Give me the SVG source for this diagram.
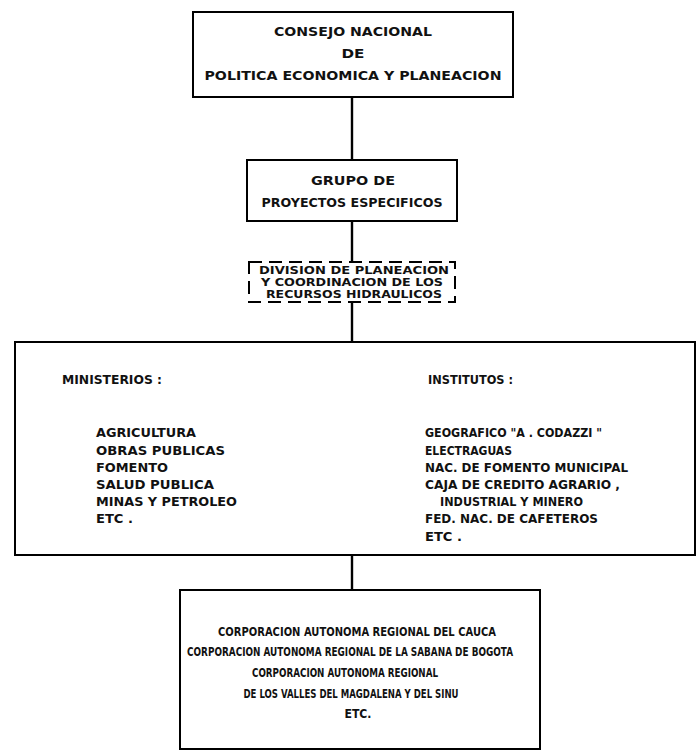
<svg xmlns="http://www.w3.org/2000/svg" width="698" height="751" viewBox="0 0 698 751">
  <style>
    .box { fill: #ffffff; stroke: #000000; stroke-width: 2; }
    .dash { fill: none; stroke: #000000; stroke-width: 2; stroke-dasharray: 13 7; }
    .link { stroke: #000000; stroke-width: 2.4; fill: none; }
    text { font-family: "DejaVu Sans", "Liberation Sans", sans-serif; font-size: 12px; font-weight: bold; fill: #111111; }
    .c { text-anchor: middle; }
    .sm { font-size: 11px; }
    .xs { font-size: 11.5px; }
  </style>
  <rect width="698" height="751" fill="#ffffff"/>

  <g id="connectors">
    <line class="link" x1="352" y1="97" x2="352" y2="160"/>
    <line class="link" x1="352" y1="221" x2="352" y2="262"/>
    <line class="link" x1="352" y1="302" x2="352" y2="342"/>
    <line class="link" x1="352" y1="555" x2="352" y2="590"/>
  </g>

  <g id="consejo">
    <rect class="box" x="193" y="12" width="320" height="85"/>
    <text class="c" x="353" y="36" textLength="158" lengthAdjust="spacingAndGlyphs">CONSEJO NACIONAL</text>
    <text class="c" x="353" y="58" textLength="23" lengthAdjust="spacingAndGlyphs">DE</text>
    <text class="c" x="353" y="80" textLength="297" lengthAdjust="spacingAndGlyphs">POLITICA ECONOMICA Y PLANEACION</text>
  </g>

  <g id="grupo">
    <rect class="box" x="247" y="160" width="210" height="61"/>
    <text class="c" x="353" y="185" textLength="84" lengthAdjust="spacingAndGlyphs">GRUPO  DE</text>
    <text class="c" x="352" y="207" textLength="181" lengthAdjust="spacingAndGlyphs">PROYECTOS ESPECIFICOS</text>
  </g>

  <g id="division">
    <rect class="dash" x="249" y="262" width="206" height="40"/>
    <text class="c sm" x="354" y="274" textLength="190" lengthAdjust="spacingAndGlyphs">DIVISION DE PLANEACION</text>
    <text class="c sm" x="352" y="286" textLength="182" lengthAdjust="spacingAndGlyphs">Y COORDINACION DE LOS</text>
    <text class="c sm" x="354" y="298" textLength="176" lengthAdjust="spacingAndGlyphs">RECURSOS  HIDRAULICOS</text>
  </g>

  <g id="entidades">
    <rect class="box" x="15" y="342" width="680" height="213"/>
    <text x="62" y="384" textLength="100" lengthAdjust="spacingAndGlyphs">MINISTERIOS :</text>
    <text x="96" y="437" textLength="100" lengthAdjust="spacingAndGlyphs">AGRICULTURA</text>
    <text x="96" y="455" textLength="129" lengthAdjust="spacingAndGlyphs">OBRAS  PUBLICAS</text>
    <text x="96" y="472" textLength="72" lengthAdjust="spacingAndGlyphs">FOMENTO</text>
    <text x="96" y="489" textLength="118" lengthAdjust="spacingAndGlyphs">SALUD PUBLICA</text>
    <text x="96" y="506" textLength="141" lengthAdjust="spacingAndGlyphs">MINAS Y PETROLEO</text>
    <text x="96" y="523" textLength="37" lengthAdjust="spacingAndGlyphs">ETC .</text>
    <text x="428" y="384" textLength="85" lengthAdjust="spacingAndGlyphs">INSTITUTOS :</text>
    <text x="425" y="437" textLength="177" lengthAdjust="spacingAndGlyphs">GEOGRAFICO "A . CODAZZI "</text>
    <text x="425" y="455" textLength="87" lengthAdjust="spacingAndGlyphs">ELECTRAGUAS</text>
    <text x="425" y="472" textLength="203" lengthAdjust="spacingAndGlyphs">NAC. DE FOMENTO MUNICIPAL</text>
    <text x="425" y="489" textLength="195" lengthAdjust="spacingAndGlyphs">CAJA DE CREDITO AGRARIO ,</text>
    <text x="440" y="506" textLength="143" lengthAdjust="spacingAndGlyphs">INDUSTRIAL Y MINERO</text>
    <text x="425" y="523" textLength="173" lengthAdjust="spacingAndGlyphs">FED. NAC. DE CAFETEROS</text>
    <text x="425" y="541" textLength="37" lengthAdjust="spacingAndGlyphs">ETC .</text>
  </g>

  <g id="corporaciones">
    <rect class="box" x="180" y="590" width="360" height="159"/>
    <text class="c xs" x="357" y="636" textLength="278" lengthAdjust="spacingAndGlyphs">CORPORACION AUTONOMA REGIONAL DEL  CAUCA</text>
    <text class="c xs" x="350" y="656" textLength="326" lengthAdjust="spacingAndGlyphs">CORPORACION AUTONOMA REGIONAL DE LA SABANA DE  BOGOTA</text>
    <text class="c xs" x="345" y="677" textLength="186" lengthAdjust="spacingAndGlyphs">CORPORACION AUTONOMA REGIONAL</text>
    <text class="c xs" x="351" y="698" textLength="215" lengthAdjust="spacingAndGlyphs">DE LOS VALLES DEL MAGDALENA Y DEL  SINU</text>
    <text class="c xs" x="358" y="718" textLength="27" lengthAdjust="spacingAndGlyphs">ETC.</text>
  </g>
</svg>
